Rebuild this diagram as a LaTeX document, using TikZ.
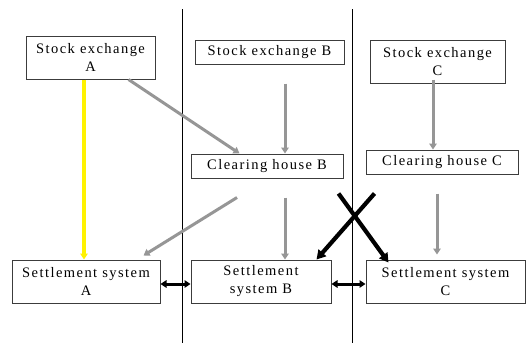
\documentclass[tikz,border=0pt]{standalone}
\usepackage{fontspec}
\setmainfont{Liberation Serif}[LetterSpace=10]
\usetikzlibrary{arrows.meta,calc}
\definecolor{arrgray}{RGB}{150,150,150}
\definecolor{boxline}{RGB}{60,60,60}
\tikzset{
  box/.style={draw=boxline,line width=1pt,inner sep=0pt,align=center,font=\fontsize{14.5}{18}\selectfont},
  grayarrow/.style={draw=arrgray,line width=3pt,-{Triangle[length=6pt,width=7.5pt]}},
  blackarrow/.style={draw=black,line width=4.2pt,-{Triangle[length=9pt,width=10pt]}},
  dblarrow/.style={draw=black,line width=3pt,{Triangle[length=6pt,width=7.5pt]}-{Triangle[length=6pt,width=7.5pt]}},
  yelline/.style={draw=yellow,line width=3.2pt,-{Triangle[length=6pt,width=7.5pt]}},
  divider/.style={draw=black,line width=1pt}
}
\begin{document}
\begin{tikzpicture}[x=1pt,y=-1pt]
\useasboundingbox[fill=white] (0,0) rectangle (526,343);
% dividers
\draw[divider] (182,9) -- (182,343);
\draw[divider] (352,9) -- (352,343);
% boxes
\node[box,minimum width=129pt,minimum height=43pt] (sea) at (90.5,57.5) {Stock exchange\\A};
\node[box,minimum width=149pt,minimum height=24pt] (seb) at (269.5,52) {Stock exchange B};
\node[box,minimum width=135pt,minimum height=43pt] (sec) at (437.5,61.5) {Stock exchange\\C};
\node[box,minimum width=152pt,minimum height=24pt] (chb) at (267,166) {Clearing house B};
\node[box,minimum width=152pt,minimum height=24pt] (chc) at (442,162) {Clearing house C};
\node[box,minimum width=148pt,minimum height=43pt] (ssa) at (86,281.5) {Settlement system\\A};
\node[box,minimum width=140pt,minimum height=43pt] (ssb) at (261,281.5) {Settlement\\system B};
\node[box,minimum width=159pt,minimum height=43pt] (ssc) at (445.5,281.5) {Settlement system\\C};
% yellow
\draw[yelline] ([xshift=-6.5pt]sea.south) -- ([xshift=-6.5pt]sea.south |- ssa.north);
% gray arrows
\draw[grayarrow] ([xshift=-27pt]sea.south east) -- ([xshift=49pt]chb.north west);
\draw[grayarrow] ([xshift=15.5pt,yshift=-19pt]seb.south) -- ([xshift=15.5pt]seb.south |- chb.north);
\draw[grayarrow] ([xshift=-4.5pt,yshift=4pt]sec.south) -- ([xshift=-4.5pt]sec.south |- chc.north);
\draw[grayarrow] ([xshift=-30pt,yshift=-19pt]chb.south) -- ([xshift=-17pt,yshift=4pt]ssa.north east);
\draw[grayarrow] ([xshift=18pt,yshift=-19pt]chb.south) -- ([xshift=18pt]chb.south |- ssb.north);
\draw[grayarrow] ([xshift=-5pt,yshift=-19pt]chc.south) -- ([xshift=-5pt,yshift=5pt]chc.south |- ssc.north);
% black cross
\draw[blackarrow] ([xshift=9pt,yshift=-19pt]chc.south west) -- ([xshift=-15pt]ssb.north east);
\draw[blackarrow] ([xshift=-5pt,yshift=-15pt]chb.south east) -- ([xshift=23pt,yshift=-3pt]ssc.north west);
% double arrows
\draw[dblarrow] ([yshift=-2.5pt]ssa.east) -- ([yshift=-2.5pt]ssb.west);
\draw[dblarrow] ([yshift=-2.5pt]ssb.east) -- ([yshift=-2.5pt]ssc.west);
\end{tikzpicture}
\end{document}
